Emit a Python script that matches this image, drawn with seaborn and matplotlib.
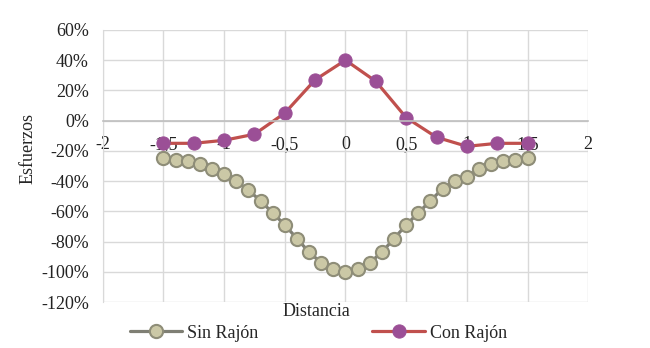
import numpy as np
import pandas as pd
import seaborn as sns
import matplotlib.pyplot as plt
from matplotlib.ticker import FuncFormatter

# Sin Rajón: paso 0.1
x_sin = [-1.5, -1.4, -1.3, -1.2, -1.1, -1.0, -0.9, -0.8, -0.7, -0.6, -0.5, -0.4, -0.3, -0.2, -0.1,
         0.0, 0.1, 0.2, 0.3, 0.4, 0.5, 0.6, 0.7, 0.8, 0.9, 1.0, 1.1, 1.2, 1.3, 1.4, 1.5]
y_sin = [-25, -26, -27, -29, -32, -35, -40, -46, -53, -61, -69, -78, -87, -94, -98,
         -100, -98, -94, -87, -78, -69, -61, -53, -45, -40, -37, -32, -29, -27, -26, -25]

# Con Rajón: paso 0.25
x_con = [-1.5, -1.25, -1.0, -0.75, -0.5, -0.25, 0.0, 0.25, 0.5, 0.75, 1.0, 1.25, 1.5]
y_con = [-15, -15, -13, -9, 5, 27, 40, 26, 2, -11, -17, -15, -15]

df_sin = pd.DataFrame({'Distancia': x_sin, 'Esfuerzos': np.array(y_sin) / 100})
df_con = pd.DataFrame({'Distancia': x_con, 'Esfuerzos': np.array(y_con) / 100})

sns.set_style('white')
plt.rcParams['font.family'] = ['Liberation Serif', 'DejaVu Serif']

fig = plt.figure(figsize=(6.5, 3.48), dpi=100)
ax = fig.add_axes([0.158, 0.132, 0.747, 0.782])

sns.lineplot(data=df_sin, x='Distancia', y='Esfuerzos', ax=ax, color='#7f7f74', linewidth=2.3,
             marker='o', markersize=9.5, markerfacecolor='#cbc8a6', markeredgecolor='#8e8d78',
             markeredgewidth=1.5, label='Sin Rajón')
sns.lineplot(data=df_con, x='Distancia', y='Esfuerzos', ax=ax, color='#c0504d', linewidth=2.3,
             marker='o', markersize=9.5, markerfacecolor='#9b4f96', markeredgecolor='#9b4f96',
             label='Con Rajón')

ax.set_xlim(-2, 2)
ax.set_ylim(-1.2, 0.6)
ax.set_xticks(np.arange(-2, 2.01, 0.5))
ax.set_yticks(np.arange(-1.2, 0.61, 0.2))
ax.xaxis.set_major_formatter(FuncFormatter(lambda v, p: ('%g' % v).replace('.', ',')))
ax.yaxis.set_major_formatter(FuncFormatter(lambda v, p: '%d%%' % round(v * 100)))
ax.grid(True, color='#d9d9d9', linewidth=1)
ax.set_axisbelow(True)

for s in ['top', 'right']:
    ax.spines[s].set_visible(False)
ax.spines['left'].set_color('#d9d9d9')
ax.spines['bottom'].set_position(('data', 0))
ax.spines['bottom'].set_color('#bfbfbf')
ax.spines['bottom'].set_linewidth(1.2)
ax.tick_params(axis='both', length=0, labelsize=13, colors='#222222')
ax.tick_params(axis='x', pad=11)
ax.tick_params(axis='y', pad=10)

ax.set_xlabel('')
ax.set_ylabel('Esfuerzos', fontsize=13)
ax.yaxis.set_label_coords(-0.136, 0.566)
fig.text(0.486, 0.106, 'Distancia', ha='center', va='center', fontsize=13)

ax.legend(loc='center', bbox_to_anchor=(0.49, 0.043), bbox_transform=fig.transFigure, ncol=2,
          frameon=False, fontsize=13, handlelength=2.9, columnspacing=6.3, handletextpad=0.3)

fig.savefig('out.png', dpi=100)
